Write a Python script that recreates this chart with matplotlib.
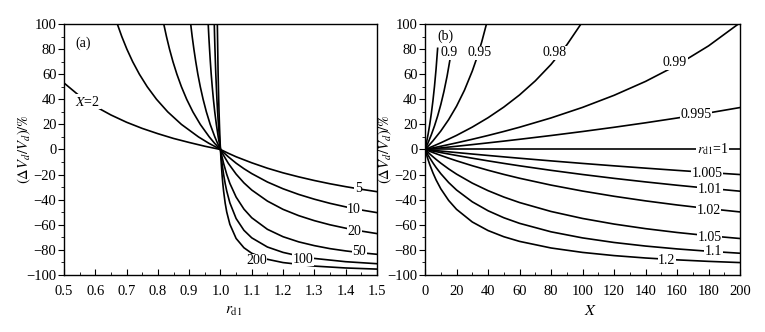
#!/usr/bin/env python
import matplotlib
matplotlib.use('Agg')
import matplotlib.pyplot as plt
from matplotlib.ticker import MultipleLocator

# ---- panel (a): x = r_d1, one curve per X ----
a_r_2 = [0.50, 0.55, 0.60, 0.65, 0.70, 0.75, 0.80, 0.85, 0.90, 0.95, 1.00]
a_v_2 = [53.0, 42.6, 34.3, 27.5, 21.7, 16.8, 12.6, 8.8, 5.6, 2.6, 0.0]

a_r_5 = [0.6703, 0.6846, 0.7008, 0.7193, 0.7408, 0.7659, 0.7956, 0.8314, 0.8752, 0.9299, 0.9626, 1.0,
         1.025, 1.05, 1.1, 1.15, 1.2, 1.25, 1.3, 1.35, 1.4, 1.45, 1.5]
a_v_5 = [100, 90, 80, 70, 60, 50, 40, 30, 20, 10, 5, 0,
         -3.0, -5.8, -10.6, -14.9, -18.6, -21.8, -24.7, -27.3, -29.6, -31.7, -33.6]

a_r_10 = [0.8187, 0.8274, 0.8371, 0.8481, 0.8607, 0.8752, 0.8920, 0.9118, 0.9355, 0.9643, 0.9811, 1.0,
          1.01, 1.025, 1.05, 1.075, 1.1, 1.15, 1.2, 1.25, 1.3, 1.35, 1.4, 1.45, 1.5]
a_v_10 = [100, 90, 80, 70, 60, 50, 40, 30, 20, 10, 5, 0,
          -2.4, -5.8, -10.9, -15.3, -19.2, -25.9, -31.3, -35.8, -39.6, -42.9, -45.7, -48.2, -50.3]

a_r_20 = [0.9048, 0.9096, 0.9150, 0.9210, 0.9277, 0.9355, 0.9445, 0.9549, 0.9672, 0.9820, 0.9905, 1.0,
          1.005, 1.01, 1.025, 1.05, 1.075, 1.1, 1.15, 1.2, 1.25, 1.3, 1.35, 1.4, 1.45, 1.5]
a_v_20 = [100, 90, 80, 70, 60, 50, 40, 30, 20, 10, 5, 0,
          -2.4, -4.7, -11.0, -19.6, -26.6, -32.3, -41.1, -47.7, -52.7, -56.7, -60.0, -62.7, -65.0, -67.0]

a_r_50 = [0.9608, 0.9628, 0.9651, 0.9676, 0.9704, 0.9737, 0.9774, 0.9817, 0.9868, 0.9928, 0.9962, 1.0,
          1.0025, 1.005, 1.01, 1.02, 1.03, 1.05, 1.075, 1.1, 1.15, 1.2, 1.25, 1.3, 1.35, 1.4, 1.45, 1.5]
a_v_50 = [100, 90, 80, 70, 60, 50, 40, 30, 20, 10, 5, 0,
          -3.0, -5.9, -11.1, -19.8, -27.0, -37.9, -47.5, -54.4, -63.6, -69.5, -73.6, -76.6, -79.0, -80.8, -82.3, -83.5]

a_r_100 = [0.9802, 0.9812, 0.9824, 0.9837, 0.9851, 0.9868, 0.9886, 0.9908, 0.9934, 0.9964, 0.9981, 1.0,
           1.001, 1.0025, 1.005, 1.01, 1.015, 1.02, 1.03, 1.05, 1.075, 1.1, 1.15, 1.2, 1.25, 1.3, 1.4, 1.5]
a_v_100 = [100, 90, 80, 70, 60, 50, 40, 30, 20, 10, 5, 0,
           -2.4, -5.9, -11.1, -19.9, -27.1, -33.1, -42.5, -55.0, -64.4, -70.4, -77.7, -82.0, -84.8, -86.8, -89.4, -91.0]

a_r_200 = [0.9900, 0.9906, 0.9912, 0.9918, 0.9925, 0.9934, 0.9943, 0.9954, 0.9967, 0.9982, 0.9990, 1.0,
           1.0005, 1.001, 1.0025, 1.005, 1.0075, 1.01, 1.015, 1.02, 1.03, 1.05, 1.075, 1.1, 1.15, 1.2, 1.3, 1.4, 1.5]
a_v_200 = [100, 90, 80, 70, 60, 50, 40, 30, 20, 10, 5, 0,
           -2.4, -4.8, -11.1, -20.0, -27.2, -33.2, -42.7, -49.8, -59.6, -70.9, -78.3, -82.7, -87.5, -90.1, -92.9, -94.4, -95.3]

# ---- panel (b): x = X, one curve per r_d1 ----
b_x = [0, 1, 2, 3, 5, 7, 10, 15, 20, 30, 40, 50, 60, 80, 100, 120, 140, 160, 180, 200]
b_v_0995 = [0, 0.13, 0.25, 0.38, 0.63, 0.89, 1.27, 1.92, 2.57, 3.91, 5.28, 6.68, 8.13, 11.14, 14.33, 17.70, 21.28, 25.08, 29.13, 33.44]
b_v_099 = [0, 0.25, 0.51, 0.76, 1.27, 1.79, 2.58, 3.92, 5.29, 8.15, 11.17, 14.37, 17.75, 25.16, 33.56, 43.17, 54.26, 67.23, 82.57, 101.0]
b_v_1 = [0, 0, 0, 0, 0, 0, 0, 0, 0, 0, 0, 0, 0, 0, 0, 0, 0, 0, 0, 0]
b_v_1005 = [0, -0.12, -0.25, -0.37, -0.62, -0.87, -1.23, -1.84, -2.43, -3.61, -4.75, -5.87, -6.96, -9.07, -11.09, -13.02, -14.86, -16.63, -18.33, -19.96]
b_v_101 = [0, -0.25, -0.50, -0.74, -1.23, -1.71, -2.43, -3.60, -4.74, -6.94, -9.05, -11.06, -12.99, -16.60, -19.92, -22.99, -25.83, -28.47, -30.93, -33.22]
b_v_102 = [0, -0.49, -0.98, -1.46, -2.42, -3.35, -4.72, -6.91, -9.01, -12.93, -16.53, -19.84, -22.90, -28.37, -33.11, -37.27, -40.94, -44.20, -47.12, -49.75]
b_v_105 = [0, -1.21, -2.38, -3.53, -5.75, -7.87, -10.87, -15.47, -19.61, -26.79, -32.79, -37.88, -42.26, -49.39, -54.95, -59.41, -63.07, -66.12, -68.71, -70.93]
b_v_11 = [0, -2.33, -4.55, -6.67, -10.65, -14.30, -19.24, -26.33, -32.27, -41.69, -48.80, -54.37, -58.84, -65.59, -70.44, -74.09, -76.94, -79.22, -81.09, -82.66]
b_v_12 = [0, -4.36, -8.35, -12.03, -18.56, -24.19, -31.31, -40.61, -47.69, -57.76, -64.58, -69.50, -73.22, -78.48, -82.01, -84.54, -86.45, -87.94, -89.14, -90.11]

b_x_098 = [0, 5, 10, 20, 30, 40, 50, 60, 70, 80, 90, 99]
b_v_098 = [0, 2.59, 5.32, 11.24, 17.86, 25.32, 33.79, 43.48, 54.69, 67.80, 83.34, 100.0]
b_x_095 = [0, 2, 5, 10, 15, 20, 25, 30, 33, 36, 39]
b_v_095 = [0, 2.63, 6.85, 14.71, 23.82, 34.49, 47.18, 62.52, 73.36, 85.75, 100.0]
b_x_09 = [0, 1, 2, 4, 6, 8, 10, 12, 14, 16, 17]
b_v_09 = [0, 2.71, 5.56, 11.78, 18.77, 26.70, 35.76, 46.22, 58.42, 72.84, 81.09]
b_x_08 = [0, 1, 2, 3, 4, 5, 6, 7, 8]
b_v_08 = [0, 5.91, 12.56, 20.10, 28.72, 38.68, 50.31, 64.07, 80.60]

# curve labels: text, x, y
a_labels = [('(a)', 0.562, 85), (r'$X$=2', 0.575, 38), ('5', 1.44, -31), ('10', 1.427, -48),
            ('20', 1.427, -65.3), ('50', 1.443, -81.3), ('100', 1.265, -87.5), ('200', 1.115, -88.5)]
b_labels = [('(b)', 13, 90), ('0.9', 15.5, 77), ('0.95', 34.6, 77), ('0.98', 82.5, 77),
            ('0.99', 158.7, 69), ('0.995', 172, 28), (r'$r_{\mathrm{d1}}$=1', 182.5, 0),
            ('1.005', 179, -19), ('1.01', 181, -32), ('1.02', 180, -48.5), ('1.05', 180.5, -70),
            ('1.1', 183, -81.5), ('1.2', 153.5, -88.5)]


def style(ax):
    ax.set_ylim(-100, 100)
    ax.yaxis.set_major_locator(MultipleLocator(20))
    ax.yaxis.set_minor_locator(MultipleLocator(10))
    ax.tick_params(axis='y', which='both', direction='out', labelsize=10.5, pad=1.5)
    ax.tick_params(axis='y', which='major', length=4)
    ax.tick_params(axis='y', which='minor', length=2)
    ax.tick_params(axis='x', which='both', direction='in', labelsize=10.5, pad=7)
    ax.tick_params(axis='x', which='major', length=4)
    ax.tick_params(axis='x', which='minor', length=2.5)
    ax.set_ylabel(r'$(\Delta V_d/V_d)/\%$', fontsize=10.5)
    # anchor is the right edge of the rotated label
    ax.yaxis.set_label_coords(-0.10, 0.5)
    for s in ax.spines.values():
        s.set_linewidth(1.0)


def put_labels(ax, labels):
    for s, x, y in labels:
        ax.text(x, y, s, ha='center', va='center', fontsize=10, zorder=5,
                bbox=dict(facecolor='white', edgecolor='none', pad=0.4))


def main():
    plt.rcParams['font.family'] = ['Liberation Serif', 'DejaVu Serif']
    plt.rcParams['mathtext.fontset'] = 'stix'

    fig = plt.figure(figsize=(7.65, 3.32), dpi=100)
    ax1 = fig.add_axes([0.0837, 0.1717, 0.409, 0.756])
    ax2 = fig.add_axes([0.5556, 0.1717, 0.4118, 0.756])

    kw = dict(color='black', lw=1.2)
    for r, v in [(a_r_2, a_v_2), (a_r_5, a_v_5), (a_r_10, a_v_10), (a_r_20, a_v_20),
                 (a_r_50, a_v_50), (a_r_100, a_v_100), (a_r_200, a_v_200)]:
        ax1.plot(r, v, **kw)
    ax1.set_xlim(0.5, 1.5)
    ax1.xaxis.set_major_locator(MultipleLocator(0.1))
    ax1.xaxis.set_minor_locator(MultipleLocator(0.05))
    ax1.set_xlabel(r'$r_{\mathrm{d1}}$', fontsize=11)
    ax1.xaxis.set_label_coords(0.543, -0.12)
    style(ax1)
    put_labels(ax1, a_labels)

    for v in [b_v_0995, b_v_099, b_v_1, b_v_1005, b_v_101, b_v_102, b_v_105, b_v_11, b_v_12]:
        ax2.plot(b_x, v, **kw)
    for x, v in [(b_x_098, b_v_098), (b_x_095, b_v_095), (b_x_09, b_v_09), (b_x_08, b_v_08)]:
        ax2.plot(x, v, **kw)
    ax2.set_xlim(0, 200)
    ax2.xaxis.set_major_locator(MultipleLocator(20))
    ax2.xaxis.set_minor_locator(MultipleLocator(10))
    ax2.set_xlabel(r'$X$', fontsize=11.5)
    ax2.xaxis.set_label_coords(0.524, -0.11)
    style(ax2)
    put_labels(ax2, b_labels)

    fig.savefig('out.png', dpi=100)
    return


if __name__ == "__main__":
    main()
